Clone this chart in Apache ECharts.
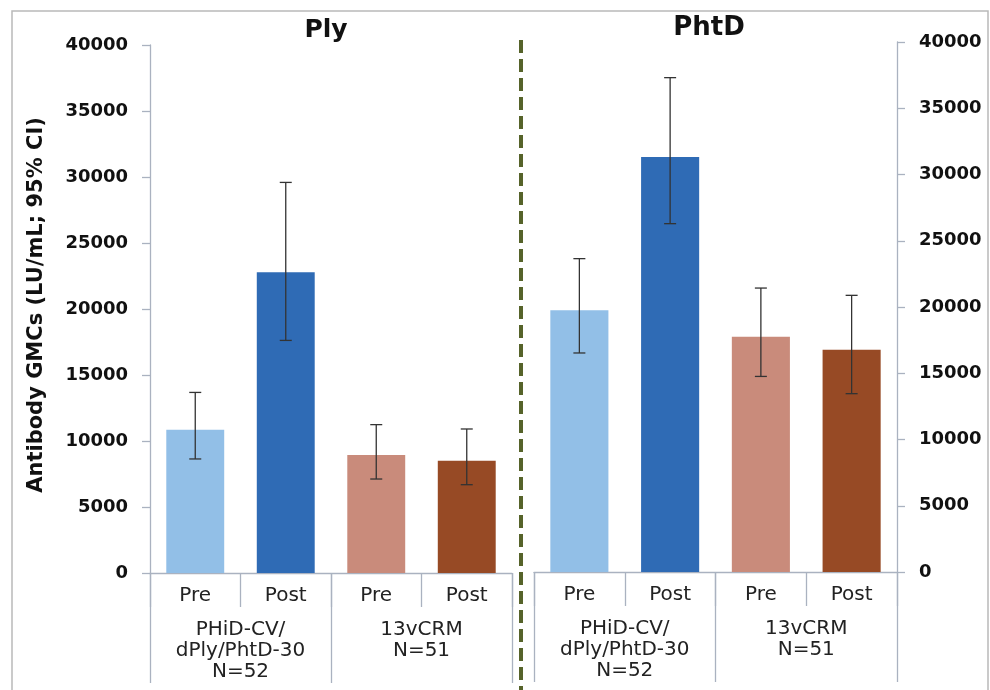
<!DOCTYPE html>
<html>
<head>
<meta charset="utf-8">
<script src="https://cdn.jsdelivr.net/npm/echarts@6/dist/echarts.min.js"></script>
<style>html,body{margin:0;padding:0;background:#fff}#c{width:990px;height:690px}</style>
</head>
<body>
<div id="c"></div>
<script>
const timepoints = ['Pre', 'Post', 'Pre', 'Post'];
const groups = ['PHiD-CV/\ndPly/PhtD-30\nN=52', '13vCRM\nN=51'];
const panelTitles = ['Ply', 'PhtD'];
const yTicks = [0, 40000, 5000]; // min, max, interval
const yAxisTitle = 'Antibody GMCs (LU/mL; 95% CI)';
const barColors = ['#92bfe7', '#2f6bb5', '#c98b7b', '#974a25'];

const plyGMC  = [10850, 22780, 8940, 8510];
const plyLow  = [8640, 17620, 7120, 6690];
const plyHigh = [13680, 29590, 11240, 10910];

const phtdGMC  = [19750, 31320, 17760, 16780];
const phtdLow  = [16530, 26290, 14760, 13460];
const phtdHigh = [23650, 37310, 21430, 20880];

const FONT = 'DejaVu Sans';
const axisGray = '#aab2c0';
const textColor = '#222';

function catAxes(gridIndex) {
  return [
    {
      type: 'category', gridIndex: gridIndex, data: timepoints, position: 'bottom',
      axisLine: { lineStyle: { color: axisGray, width: 1.3 } },
      axisTick: { show: true, length: 34, lineStyle: { color: axisGray, width: 1.3 } },
      axisLabel: { fontFamily: FONT, fontSize: 20, color: textColor, margin: 13 }
    },
    {
      type: 'category', gridIndex: gridIndex, data: groups, position: 'bottom',
      axisLine: { show: false },
      axisTick: { show: true, length: 110, lineStyle: { color: axisGray, width: 1.3 } },
      axisLabel: { fontFamily: FONT, fontSize: 20, lineHeight: 21, color: textColor, margin: 46, verticalAlign: 'top' }
    }
  ];
}

function valAxis(gridIndex, pos, withName) {
  const ax = {
    type: 'value', gridIndex: gridIndex, position: pos,
    min: yTicks[0], max: yTicks[1], interval: yTicks[2],
    axisLine: { show: true, lineStyle: { color: axisGray, width: 1.3 } },
    axisTick: { show: true, length: 8, lineStyle: { color: axisGray, width: 1.3 } },
    splitLine: { show: false },
    axisLabel: { fontFamily: FONT, fontSize: 18, fontWeight: 'bold', color: '#111', margin: 22,
      formatter: function (v) { return String(v); } }
  };
  if (withName) {
    ax.name = yAxisTitle;
    ax.nameLocation = 'middle';
    ax.nameGap = 103;
    ax.nameTextStyle = { fontFamily: FONT, fontSize: 21, fontWeight: 'bold', color: '#111', padding: [0, 0, 0, 8] };
  }
  return ax;
}

function errSeries(xi, yi, low, high) {
  return {
    type: 'custom', xAxisIndex: xi, yAxisIndex: yi, z: 5,
    data: low.map((l, i) => [i, l, high[i]]),
    renderItem: function (params, api) {
      const idx = api.value(0);
      const p1 = api.coord([idx, api.value(1)]);
      const p2 = api.coord([idx, api.value(2)]);
      const cap = 6;
      const style = { stroke: '#333', lineWidth: 1.3 };
      return {
        type: 'group',
        children: [
          { type: 'line', shape: { x1: p1[0], y1: p1[1], x2: p2[0], y2: p2[1] }, style: style },
          { type: 'line', shape: { x1: p1[0] - cap, y1: p1[1], x2: p1[0] + cap, y2: p1[1] }, style: style },
          { type: 'line', shape: { x1: p2[0] - cap, y1: p2[1], x2: p2[0] + cap, y2: p2[1] }, style: style }
        ]
      };
    }
  };
}

function barSeries(xi, yi, vals) {
  return {
    type: 'bar', xAxisIndex: xi, yAxisIndex: yi, barWidth: '64%',
    data: vals.map((v, i) => ({ value: v, itemStyle: { color: barColors[i] } }))
  };
}

const chart = echarts.init(document.getElementById('c'), null, { renderer: 'canvas' });
chart.setOption({
  animation: false,
  backgroundColor: '#fff',
  title: [
    { text: panelTitles[0], left: 321, top: 13, textAlign: 'center',
      textStyle: { fontFamily: FONT, fontSize: 25, fontWeight: 'bold', color: '#111' } },
    { text: panelTitles[1], left: 704, top: 10, textAlign: 'center',
      textStyle: { fontFamily: FONT, fontSize: 26, fontWeight: 'bold', color: '#111' } }
  ],
  grid: [
    { left: 150, right: 478, top: 45, bottom: 117, containLabel: false, outerBoundsMode: 'none' },
    { left: 534, right: 93, top: 42, bottom: 118, containLabel: false, outerBoundsMode: 'none' }
  ],
  xAxis: catAxes(0).concat(catAxes(1)),
  yAxis: [valAxis(0, 'left', true), valAxis(1, 'right', false)],
  series: [
    barSeries(0, 0, plyGMC),
    errSeries(0, 0, plyLow, plyHigh),
    barSeries(2, 1, phtdGMC),
    errSeries(2, 1, phtdLow, phtdHigh)
  ],
  graphic: [
    { type: 'rect', shape: { x: 12, y: 11, width: 976, height: 700 },
      style: { fill: 'none', stroke: '#b9b9b9', lineWidth: 1.5 }, z: -1 },
    { type: 'line', shape: { x1: 521, y1: 40, x2: 521, y2: 690 },
      style: { stroke: '#56632a', lineWidth: 4, lineDash: [13, 6] } }
  ]
});
</script>
</body>
</html>
